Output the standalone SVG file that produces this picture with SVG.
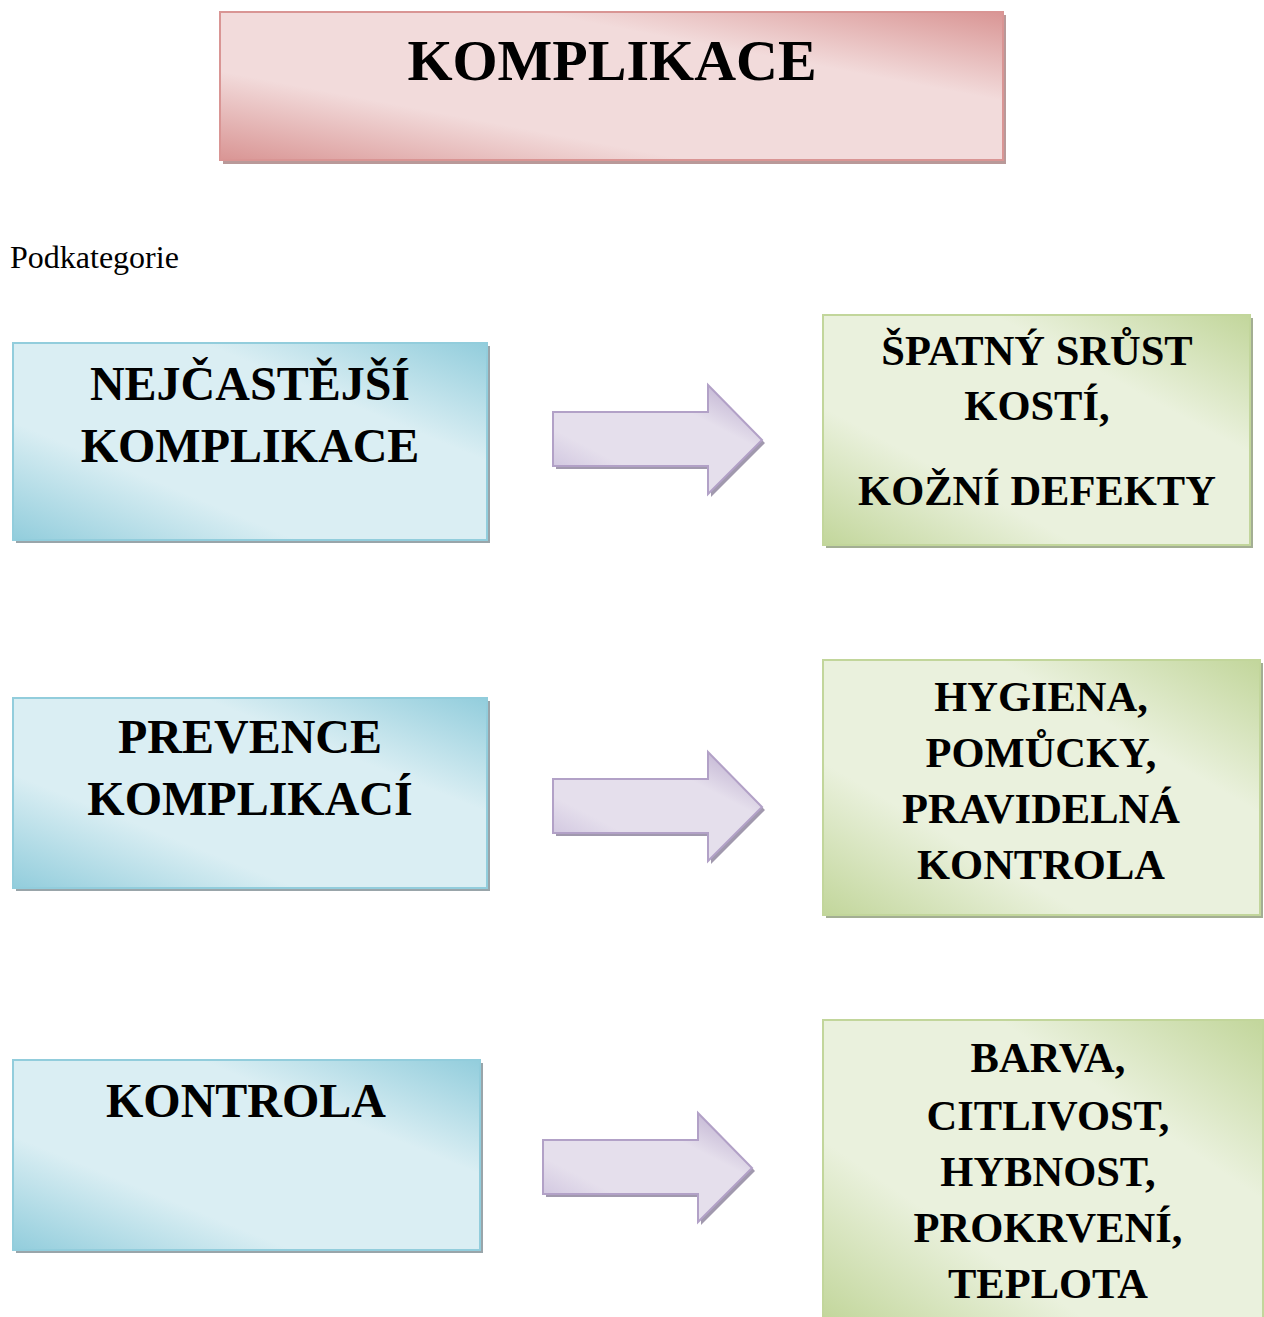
<svg xmlns="http://www.w3.org/2000/svg" width="1264" height="1317" viewBox="0 0 1264 1317">
<defs>
<linearGradient id="gPink" x1="0" y1="1" x2="1" y2="0">
<stop offset="0" stop-color="#d99594"/><stop offset="0.3" stop-color="#f2dbdb"/><stop offset="0.7" stop-color="#f2dbdb"/><stop offset="1" stop-color="#d99594"/>
</linearGradient>
<linearGradient id="gBlue" x1="0" y1="1" x2="1" y2="0">
<stop offset="0" stop-color="#92cddc"/><stop offset="0.3" stop-color="#daeef3"/><stop offset="0.7" stop-color="#daeef3"/><stop offset="1" stop-color="#92cddc"/>
</linearGradient>
<linearGradient id="gGreen" x1="0" y1="1" x2="1" y2="0">
<stop offset="0" stop-color="#c2d69b"/><stop offset="0.3" stop-color="#eaf1dd"/><stop offset="0.7" stop-color="#eaf1dd"/><stop offset="1" stop-color="#c2d69b"/>
</linearGradient>
<linearGradient id="gPurple" x1="0" y1="1" x2="1" y2="0">
<stop offset="0" stop-color="#c4b7d8"/><stop offset="0.3" stop-color="#e5dfec"/><stop offset="0.7" stop-color="#e5dfec"/><stop offset="1" stop-color="#b2a1c7"/>
</linearGradient>
<path id="arrowShape" d="M0,27 L155,27 L155,0 L209,55 L155,109 L155,81 L0,81 Z"/>
</defs>
<style>
.t{font-family:"Liberation Serif","Times New Roman",serif;font-weight:bold;fill:#000;text-anchor:middle}
.blue{fill:url(#gBlue);stroke:#92cddc;stroke-width:2}
.green{fill:url(#gGreen);stroke:#c2d69b;stroke-width:2}
.pink{fill:url(#gPink);stroke:#d99594;stroke-width:2}
.sh{fill:#7f8f95;opacity:0.8}
.shg{fill:#8c9a78;opacity:0.8}
.shp{fill:#a88080;opacity:0.8}
.arr{fill:url(#gPurple);stroke:#b2a1c7;stroke-width:2}
.ash{fill:#8a7f9a;opacity:0.8}
</style>
<rect width="1264" height="1317" fill="#fff"/>

<g id="title">
<rect class="shp" x="223" y="15" width="783" height="149"/>
<rect class="pink" x="220" y="12" width="783" height="148"/>
<text class="t" x="612" y="80" font-size="58">KOMPLIKACE</text>
</g>

<text x="10" y="268" font-family="Liberation Serif,Times New Roman,serif" font-size="32" fill="#000">Podkategorie</text>

<g id="n1">
<rect class="sh" x="16" y="346" width="474" height="197"/>
<rect class="blue" x="13" y="343" width="474" height="197"/>
<text class="t" x="250" y="400" font-size="48">NEJČASTĚJŠÍ</text>
<text class="t" x="250" y="462" font-size="48">KOMPLIKACE</text>
</g>
<g id="n2">
<rect class="shg" x="826" y="318" width="427" height="230"/>
<rect class="green" x="823" y="315" width="427" height="230"/>
<text class="t" x="1037" y="365" font-size="42.5">ŠPATNÝ SRŮST</text>
<text class="t" x="1037" y="420" font-size="42.5">KOSTÍ,</text>
<text class="t" x="1037" y="505" font-size="42.5">KOŽNÍ DEFEKTY</text>
</g>
<g id="n3">
<rect class="sh" x="16" y="701" width="474" height="190"/>
<rect class="blue" x="13" y="698" width="474" height="190"/>
<text class="t" x="250" y="753" font-size="48">PREVENCE</text>
<text class="t" x="250" y="815" font-size="48">KOMPLIKACÍ</text>
</g>
<g id="n4">
<rect class="shg" x="826" y="663" width="437" height="255"/>
<rect class="green" x="823" y="660" width="437" height="255"/>
<text class="t" x="1041" y="711" font-size="42.5">HYGIENA,</text>
<text class="t" x="1041" y="767" font-size="42.5">POMŮCKY,</text>
<text class="t" x="1041" y="823" font-size="42.5">PRAVIDELNÁ</text>
<text class="t" x="1041" y="879" font-size="42.5">KONTROLA</text>
</g>
<g id="n5">
<rect class="sh" x="16" y="1063" width="467" height="190"/>
<rect class="blue" x="13" y="1060" width="467" height="190"/>
<text class="t" x="246" y="1117" font-size="48">KONTROLA</text>
</g>
<g id="n6">
<rect class="shg" x="826" y="1023" width="440" height="300"/>
<rect class="green" x="823" y="1020" width="440" height="300"/>
<text class="t" x="1048" y="1072" font-size="42.5">BARVA,</text>
<text class="t" x="1048" y="1130" font-size="42.5">CITLIVOST,</text>
<text class="t" x="1048" y="1186" font-size="42.5">HYBNOST,</text>
<text class="t" x="1048" y="1242" font-size="42.5">PROKRVENÍ,</text>
<text class="t" x="1048" y="1298" font-size="42.5">TEPLOTA</text>
</g>

<g id="connectors">
<use href="#arrowShape" class="ash" transform="translate(556,388)"/>
<use href="#arrowShape" class="arr" transform="translate(553,385)"/>
<use href="#arrowShape" class="ash" transform="translate(556,755)"/>
<use href="#arrowShape" class="arr" transform="translate(553,752)"/>
<use href="#arrowShape" class="ash" transform="translate(546,1116)"/>
<use href="#arrowShape" class="arr" transform="translate(543,1113)"/>
</g>
</svg>
